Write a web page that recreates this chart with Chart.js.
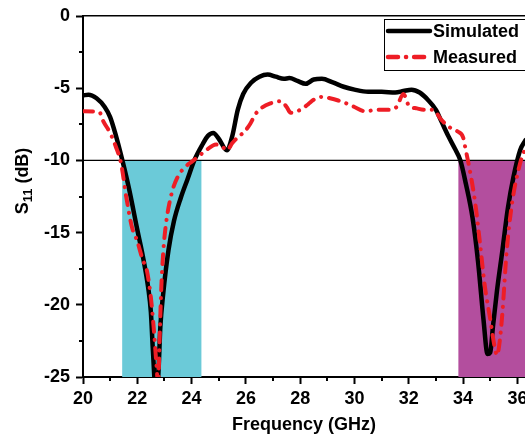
<!DOCTYPE html>
<html>
<head>
<meta charset="utf-8">
<script src="https://cdn.jsdelivr.net/npm/chart.js@4/dist/chart.umd.min.js"></script>
<style>
  html, body { margin: 0; padding: 0; background: #fff; overflow: hidden; }
  #wrap { width: 525px; height: 436px; }
</style>
</head>
<body>
<div id="wrap"><canvas id="c" width="525" height="436"></canvas></div>
<script>
// Frequency sweep (GHz) and reflection coefficient S11 (dB)
const simFreq = [20.0, 20.2, 20.5, 20.8, 21.0, 21.2, 21.45, 21.7, 22.0, 22.2, 22.4, 22.5, 22.57, 22.68, 22.77, 22.85, 22.95, 23.15, 23.35, 23.6, 23.85, 24.1, 24.4, 24.6, 24.8, 25.0, 25.3, 25.5, 25.7, 25.9, 26.2, 26.5, 26.8, 27.1, 27.4, 27.6, 27.9, 28.2, 28.5, 28.8, 29.2, 29.6, 30.0, 30.5, 31.0, 31.5, 31.8, 32.1, 32.4, 32.7, 33.0, 33.2, 33.45, 33.7, 33.9, 34.1, 34.35, 34.55, 34.75, 34.9, 35.0, 35.1, 35.25, 35.45, 35.65, 35.85, 36.1, 36.3];
const simS11 = [-5.5, -5.45, -5.7, -6.3, -7.0, -8.2, -10.0, -12.0, -14.8, -16.6, -18.8, -20.5, -23.0, -26.0, -25.0, -21.5, -19.3, -16.2, -14.2, -12.6, -11.3, -10.0, -8.9, -8.3, -8.1, -8.5, -9.3, -8.3, -6.5, -5.4, -4.6, -4.2, -4.05, -4.2, -4.35, -4.3, -4.5, -4.7, -4.4, -4.35, -4.6, -4.9, -5.1, -5.25, -5.25, -5.3, -5.2, -5.1, -5.3, -5.8, -6.5, -7.3, -8.3, -9.2, -10.0, -11.6, -14.0, -17.0, -21.0, -23.4, -23.3, -21.5, -19.0, -16.2, -13.3, -11.2, -9.3, -8.6];

const measFreq = [20.0, 20.6, 20.75, 21.0, 21.2, 21.4, 21.6, 21.8, 22.0, 22.2, 22.35, 22.5, 22.6, 22.7, 22.77, 22.82, 22.88, 22.95, 23.05, 23.25, 23.5, 23.8, 24.0, 24.2, 24.5, 24.9, 25.1, 25.3, 25.5, 25.7, 25.95, 26.15, 26.35, 26.55, 26.9, 27.3, 27.5, 27.65, 28.0, 28.3, 28.5, 28.8, 29.1, 29.4, 29.7, 30.0, 30.4, 30.8, 31.2, 31.55, 31.8, 32.0, 32.3, 32.6, 32.9, 33.2, 33.5, 33.8, 34.0, 34.1, 34.25, 34.45, 34.62, 34.8, 35.0, 35.15, 35.25, 35.35, 35.45, 35.6, 35.8, 36.1, 36.3];
const measS11 = [-6.6, -6.65, -7.3, -8.1, -9.0, -10.2, -12.6, -14.6, -15.6, -16.9, -17.6, -19.5, -21.5, -24.0, -25.5, -22.5, -19.0, -16.5, -14.5, -12.4, -11.1, -10.4, -10.1, -9.8, -9.35, -8.9, -9.0, -9.3, -8.8, -8.4, -8.0, -7.5, -6.8, -6.4, -6.05, -5.9, -6.3, -6.7, -6.5, -6.1, -5.8, -5.6, -5.7, -5.85, -6.05, -6.3, -6.6, -6.5, -6.5, -6.3, -5.4, -6.2, -6.4, -6.5, -6.5, -7.2, -7.7, -8.0, -8.4, -9.3, -10.7, -13.0, -15.7, -18.7, -21.0, -22.8, -23.5, -22.5, -20.5, -16.4, -13.0, -10.2, -9.1];

// -10 dB reference level and the two operating bands below it
const refLevel = -10;
const bandLow = [21.44, 24.37];
const bandHigh = [33.82, 36.3];

const xTicks = [20, 22, 24, 26, 28, 30, 32, 34, 36];
const yTicks = [0, -5, -10, -15, -20, -25];
const xMinor = [21, 23, 25, 27, 29, 31, 33, 35];
const yMinor = [-2.5, -7.5, -12.5, -17.5, -22.5];

const seriesNames = ['Simulated', 'Measured'];

const FONT = '"Liberation Sans", Arial, sans-serif';
const RED = '#ee1d25';
const MEAS_DASH = [10, 8, 0.1, 8];

const toPts = (xs, ys) => xs.map((x, i) => ({ x: x, y: ys[i] }));

// minor ticks, y title with subscript, boxed legend
const decor = {
  id: 'decor',
  afterDraw(chart) {
    const ctx = chart.ctx;
    const xs = chart.scales.x, ys = chart.scales.y;
    const a = chart.chartArea;
    ctx.save();
    ctx.strokeStyle = '#000';
    ctx.lineWidth = 2;
    ctx.beginPath();
    xMinor.forEach(v => {
      const px = Math.round(xs.getPixelForValue(v));
      ctx.moveTo(px, a.bottom);
      ctx.lineTo(px, a.bottom + 4);
    });
    yMinor.forEach(v => {
      const py = Math.round(ys.getPixelForValue(v));
      ctx.moveTo(a.left, py);
      ctx.lineTo(a.left - 4, py);
    });
    ctx.stroke();

    // y axis title: S11 (dB)
    ctx.save();
    ctx.translate(28, 181);
    ctx.rotate(-Math.PI / 2);
    ctx.fillStyle = '#000';
    ctx.textBaseline = 'alphabetic';
    ctx.textAlign = 'left';
    const big = 'bold 18px ' + FONT, small = 'bold 13px ' + FONT;
    ctx.font = big; const wS = ctx.measureText('S').width;
    ctx.font = small; const w11 = ctx.measureText('11').width;
    ctx.font = big; const wRest = ctx.measureText(' (dB)').width;
    let x0 = -(wS + w11 + wRest) / 2;
    ctx.font = big; ctx.fillText('S', x0, 0); x0 += wS;
    ctx.font = small; ctx.fillText('11', x0, 4); x0 += w11;
    ctx.font = big; ctx.fillText(' (dB)', x0, 0);
    ctx.restore();

    // legend
    const lx = 384, ly = 19, lw = 160, lh = 51;
    ctx.lineWidth = 1;
    ctx.strokeStyle = '#000';
    ctx.fillStyle = '#fff';
    ctx.fillRect(lx, ly, lw, lh);
    ctx.strokeRect(lx + 0.5, ly + 0.5, lw, lh);
    const rows = [
      { y: 31, color: '#000', dash: [] },
      { y: 57, color: RED, dash: MEAS_DASH }
    ];
    rows.forEach((r, i) => {
      ctx.beginPath();
      ctx.setLineDash(r.dash);
      ctx.lineCap = 'round';
      ctx.lineWidth = 4.5;
      ctx.strokeStyle = r.color;
      ctx.moveTo(388, r.y);
      ctx.lineTo(430, r.y);
      ctx.stroke();
      ctx.setLineDash([]);
      ctx.fillStyle = '#000';
      ctx.font = 'bold 18px ' + FONT;
      ctx.textBaseline = 'middle';
      ctx.textAlign = 'left';
      ctx.fillText(seriesNames[i], 433, r.y + 1);
    });
    ctx.restore();
  }
};

new Chart(document.getElementById('c'), {
  type: 'line',
  data: {
    datasets: [
      {
        label: 'band-low',
        data: [{ x: bandLow[0], y: refLevel }, { x: bandLow[1], y: refLevel }],
        borderWidth: 0, pointRadius: 0,
        backgroundColor: '#6bcad8', fill: 'start', order: 5
      },
      {
        label: 'band-high',
        data: [{ x: bandHigh[0], y: refLevel }, { x: bandHigh[1], y: refLevel }],
        borderWidth: 0, pointRadius: 0,
        backgroundColor: '#b34e9e', fill: 'start', order: 5
      },
      {
        label: 'ref',
        data: [{ x: 20, y: refLevel }, { x: 36.3, y: refLevel }],
        borderColor: '#000', borderWidth: 1.2, pointRadius: 0, fill: false, order: 4
      },
      {
        label: seriesNames[0],
        data: toPts(simFreq, simS11),
        borderColor: '#000', borderWidth: 4.5, pointRadius: 0,
        cubicInterpolationMode: 'monotone', fill: false, order: 2,
        borderCapStyle: 'round', borderJoinStyle: 'round'
      },
      {
        label: seriesNames[1],
        data: toPts(measFreq, measS11),
        borderColor: RED, borderWidth: 4, pointRadius: 0,
        borderDash: MEAS_DASH, borderCapStyle: 'round',
        cubicInterpolationMode: 'monotone', fill: false, order: 1
      }
    ]
  },
  options: {
    responsive: false,
    animation: false,
    events: [],
    layout: { padding: 0 },
    plugins: { legend: { display: false }, tooltip: { enabled: false } },
    scales: {
      x: {
        type: 'linear', position: 'bottom', min: 20, max: 36.28,
        afterBuildTicks: s => { s.ticks = xTicks.map(v => ({ value: v })); },
        afterFit: s => { s.height = 59; s.paddingRight = 0; s.paddingLeft = 0; },
        ticks: {
          autoSkip: false, maxRotation: 0, padding: 4, color: '#000',
          font: { family: FONT, size: 18, weight: 'bold' }
        },
        grid: { display: true, drawOnChartArea: false, drawTicks: true, tickLength: 7, tickColor: '#000', tickWidth: 2 },
        border: { display: true, color: '#000', width: 2 },
        title: {
          display: true, text: 'Frequency (GHz)', color: '#000', padding: { top: 2, bottom: 0 },
          font: { family: FONT, size: 18, weight: 'bold' }
        }
      },
      xTop: {
        type: 'linear', position: 'top', min: 20, max: 36.28,
        afterFit: s => { s.height = 16; s.paddingRight = 0; s.paddingLeft = 0; },
        ticks: { display: false },
        grid: { display: false },
        border: { display: true, color: '#000', width: 1.5 }
      },
      y: {
        type: 'linear', min: -25, max: 0,
        afterBuildTicks: s => { s.ticks = yTicks.map(v => ({ value: v })); },
        afterFit: s => { s.width = 83; s.paddingTop = 0; s.paddingBottom = 0; },
        ticks: {
          padding: 6, color: '#000',
          font: { family: FONT, size: 18, weight: 'bold' }
        },
        grid: { display: true, drawOnChartArea: false, drawTicks: true, tickLength: 7, tickColor: '#000', tickWidth: 2 },
        border: { display: true, color: '#000', width: 2 }
      }
    }
  },
  plugins: [decor]
});
</script>
</body>
</html>
